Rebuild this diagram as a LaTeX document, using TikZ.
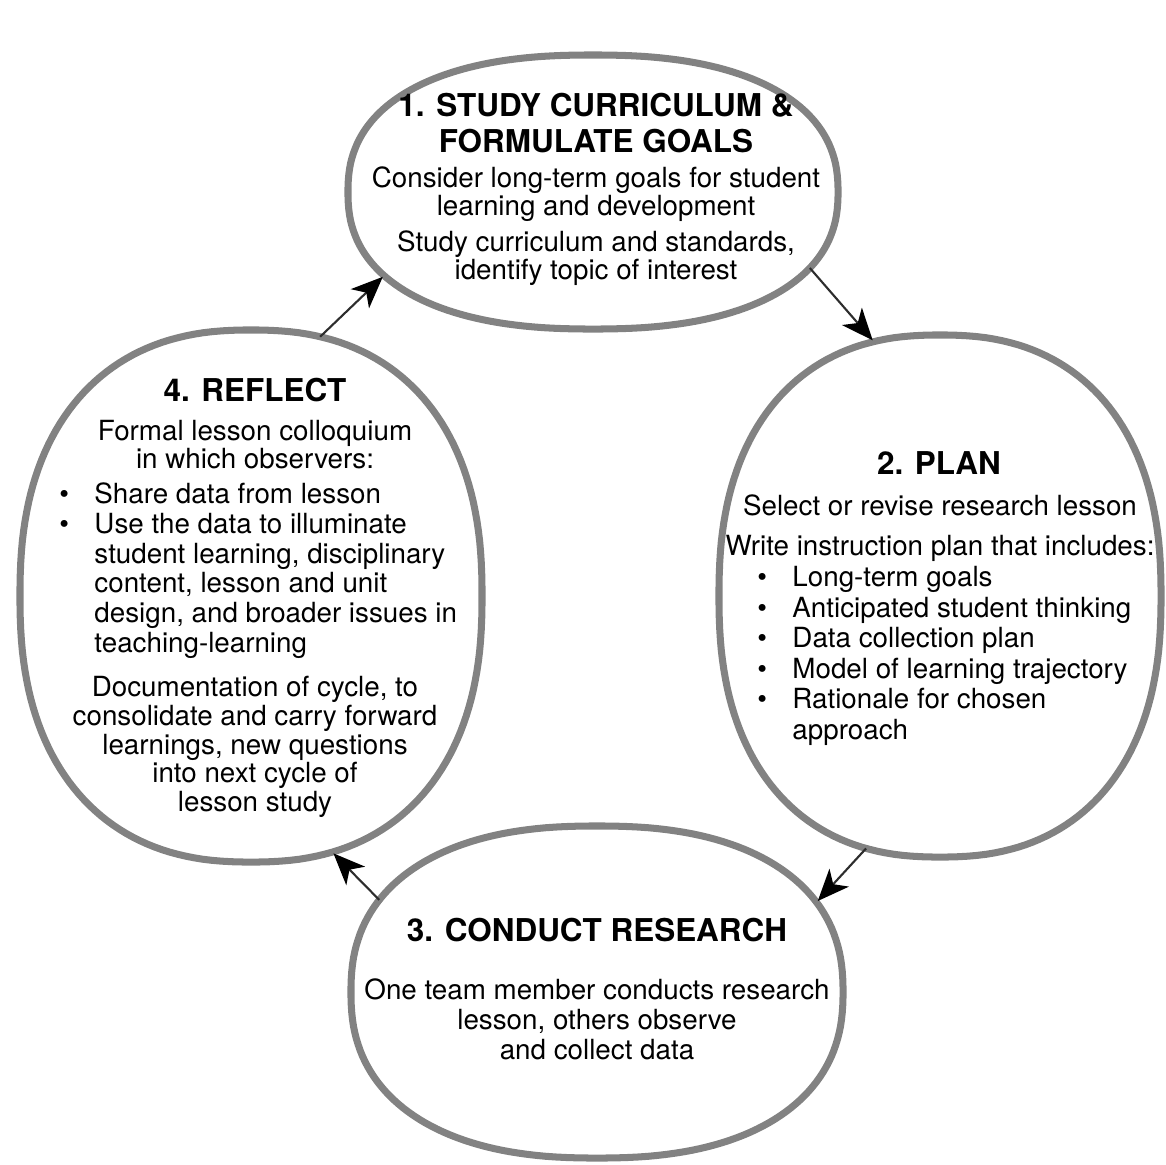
\documentclass[tikz,border=0pt]{standalone}
\usepackage{fontspec}
\setmainfont{TeX Gyre Heros}
\usetikzlibrary{arrows.meta,calc}

\definecolor{ringgray}{RGB}{130,130,130}
\definecolor{arrowgray}{RGB}{45,45,45}

\tikzset{
	ring/.style={draw=ringgray, line width=4pt, line join=round},
	head/.style={font=\fontsize{17.9}{21}\selectfont\bfseries, align=center, inner sep=0pt},
	body/.style={font=\fontsize{15.8}{16}\selectfont, align=center, inner sep=0pt},
	list/.style={font=\fontsize{15.8}{17.4}\selectfont, align=left, inner sep=0pt, anchor=west},
	flow/.style={draw=arrowgray, line width=1.2pt, shorten >=1pt,
		-{Stealth[length=18pt, width=15pt, inset=5pt, color=black]}},
	declare function={sx(\t)=sign(cos(\t))*abs(cos(\t))^0.85;
		sy(\t)=sign(sin(\t))*abs(sin(\t))^0.85;}
}

\begin{document}
\begin{tikzpicture}[x=0.02cm, y=-0.02cm]
	\useasboundingbox (0,0) rectangle (1166,1164);

	% Centros das etapas
	\coordinate (s1) at (593,192);
	\coordinate (s2) at (940,596);
	\coordinate (s3) at (597,992);
	\coordinate (s4) at (251,596);

	% Contornos das etapas
	\draw[ring] plot[domain=1:361, samples=181] ({593+245*sx(\x)}, {192+137*sy(\x)}) -- cycle;	% Etapa 1
	\draw[ring] plot[domain=1:361, samples=181] ({940+221*sx(\x)}, {596+261*sy(\x)}) -- cycle;	% Etapa 2
	\draw[ring] plot[domain=1:361, samples=181] ({597+246*sx(\x)}, {992+166*sy(\x)}) -- cycle;	% Etapa 3
	\draw[ring] plot[domain=1:361, samples=181] ({251+231*sx(\x)}, {596+266*sy(\x)}) -- cycle;	% Etapa 4

	% Etapa 1
	\node[head] (h1) at (596,123) {1. STUDY CURRICULUM \&\\FORMULATE GOALS};
	\node[body] (b1a) at (596,194) {Consider long-term goals for student\\learning and development};
	\node[body] (b1b) at (596,258) {Study curriculum and standards,\\identify topic of interest};

	% Etapa 2
	\node[head] (h2) at (939,463) {2. PLAN};
	\node[body] (b2a) at (940,505) {Select or revise research lesson};
	\node[body] (b2b) at (940,548) {Write instruction plan that includes:};
	\node[list] (l2) at (757,657) {\begin{tabular}{@{}p{20pt}@{}l@{}}
		\textbullet & Long-term goals\\
		\textbullet & Anticipated student thinking\\
		\textbullet & Data collection plan\\
		\textbullet & Model of learning trajectory\\
		\textbullet & Rationale for chosen\\
		 & approach
	\end{tabular}};

	% Etapa 3
	\node[head] (h3) at (597,930) {3. CONDUCT RESEARCH};
	\node[body, font=\fontsize{15.8}{17}\selectfont] (b3) at (597,1019) {One team member conducts research\\lesson, others observe\\and collect data};

	% Etapa 4
	\node[head] (h4) at (255,390) {4. REFLECT};
	\node[body] (b4a) at (255,445) {Formal lesson colloquium\\in which observers:};
	\node[list, font=\fontsize{15.8}{17}\selectfont] (l4) at (59,572) {\begin{tabular}{@{}p{20pt}@{}l@{}}
		\textbullet & Share data from lesson\\
		\textbullet & Use the data to illuminate\\
		 & student learning, disciplinary\\
		 & content, lesson and unit\\
		 & design, and broader issues in\\
		 & teaching-learning
	\end{tabular}};
	\node[body, font=\fontsize{15.8}{16.3}\selectfont] (b4b) at (255,747) {Documentation of cycle, to\\consolidate and carry forward\\learnings, new questions\\into next cycle of\\lesson study};

	% Pontas das setas
	\coordinate (a1s) at ($(s1)+({245*sx(30)},{137*sy(30)})$);
	\coordinate (a1e) at ($(s2)+({221*sx(256)},{261*sy(256)})$);
	\coordinate (a2s) at ($(s2)+({221*sx(106)},{261*sy(106)})$);
	\coordinate (a2e) at ($(s3)+({246*sx(331)},{166*sy(331)})$);
	\coordinate (a3s) at ($(s3)+({246*sx(210)},{166*sy(210)})$);
	\coordinate (a3e) at ($(s4)+({231*sx(73)},{266*sy(73)})$);
	\coordinate (a4s) at ($(s4)+({231*sx(284)},{266*sy(284)})$);
	\coordinate (a4e) at ($(s1)+({245*sx(146)},{137*sy(146)})$);

	% Setas
	\draw[flow] (a1s) -- (a1e);
	\draw[flow] (a2s) -- (a2e);
	\draw[flow] (a3s) -- (a3e);
	\draw[flow] (a4s) -- (a4e);
\end{tikzpicture}
\end{document}
